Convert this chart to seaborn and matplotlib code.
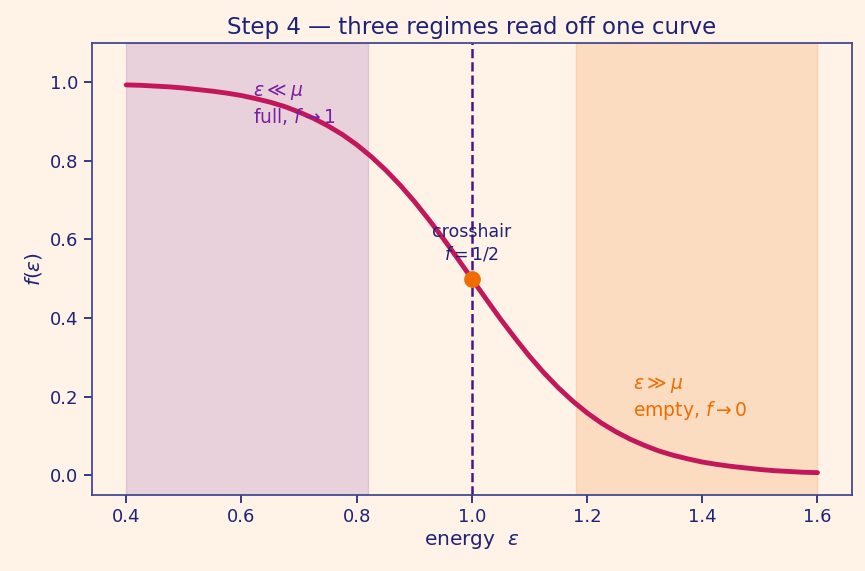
import pandas as pd
import seaborn as sns
import matplotlib
matplotlib.use("Agg")
import matplotlib.pyplot as plt

# values
energy = [0.400, 0.425, 0.450, 0.475, 0.500, 0.525, 0.550, 0.575, 0.600, 0.625,
          0.650, 0.675, 0.700, 0.725, 0.750, 0.775, 0.800, 0.825, 0.850, 0.875,
          0.900, 0.925, 0.950, 0.975, 1.000, 1.025, 1.050, 1.075, 1.100, 1.125,
          1.150, 1.175, 1.200, 1.225, 1.250, 1.275, 1.300, 1.325, 1.350, 1.375,
          1.400, 1.425, 1.450, 1.475, 1.500, 1.525, 1.550, 1.575, 1.600]
occupancy = [0.993, 0.992, 0.990, 0.988, 0.985, 0.981, 0.977, 0.972, 0.966, 0.958,
             0.949, 0.938, 0.924, 0.908, 0.889, 0.867, 0.841, 0.811, 0.777, 0.739,
             0.697, 0.651, 0.603, 0.552, 0.500, 0.448, 0.397, 0.349, 0.303, 0.261,
             0.223, 0.189, 0.159, 0.133, 0.111, 0.092, 0.076, 0.062, 0.051, 0.042,
             0.034, 0.028, 0.023, 0.019, 0.015, 0.012, 0.010, 0.008, 0.007]
mu = 1.0
full_band = [0.40, 0.82]
empty_band = [1.18, 1.60]

bg = "#fff2e6"
navy = "#1f2378"
purple = "#7b1fa2"
orange = "#ef6c00"

sns.set_theme(style="ticks")
plt.rcParams["font.family"] = ["DejaVu Sans"]
plt.rcParams["mathtext.fontset"] = "dejavusans"

df = pd.DataFrame({"energy": energy, "f": occupancy})

fig, ax = plt.subplots(figsize=(8.65, 5.71), dpi=100)
fig.patch.set_facecolor(bg)
ax.set_facecolor(bg)

ax.axvspan(*full_band, color="#6a1b9a", alpha=0.15)
ax.axvspan(*empty_band, color=orange, alpha=0.16)
ax.axvline(mu, color="#4a148c", ls="--", lw=1.8)

sns.lineplot(data=df, x="energy", y="f", color="#c2185b", lw=3.5, ax=ax)
ax.plot([mu], [0.5], "o", color=orange, ms=11, zorder=5)

ax.text(0.62, 1.0, r"$\varepsilon \ll \mu$" + "\n" + r"full, $f \to 1$",
        color=purple, fontsize=13.5, va="top", ha="left")
ax.text(1.28, 0.255, r"$\varepsilon \gg \mu$" + "\n" + r"empty, $f \to 0$",
        color=orange, fontsize=13.5, va="top", ha="left")
ax.text(1.0, 0.54, "crosshair\n" + r"$f = 1/2$", color=navy, fontsize=12.5,
        ha="center", va="bottom")

ax.set_xlim(0.34, 1.66)
ax.set_ylim(-0.05, 1.1)
ax.set_xticks([0.4, 0.6, 0.8, 1.0, 1.2, 1.4, 1.6])
ax.set_yticks([0.0, 0.2, 0.4, 0.6, 0.8, 1.0])
ax.set_xlabel(r"energy  $\varepsilon$", color=navy, fontsize=14.5)
ax.set_ylabel(r"$f(\varepsilon)$", color=navy, fontsize=14.5)
ax.set_title("Step 4 — three regimes read off one curve", color=navy, fontsize=16.5)
ax.tick_params(colors=navy, labelsize=13)
for s in ax.spines.values():
    s.set_color("#3d438f")
    s.set_visible(True)

plt.subplots_adjust(left=0.106, right=0.985, top=0.925, bottom=0.133)
plt.savefig("out.png", dpi=100, facecolor=bg)
